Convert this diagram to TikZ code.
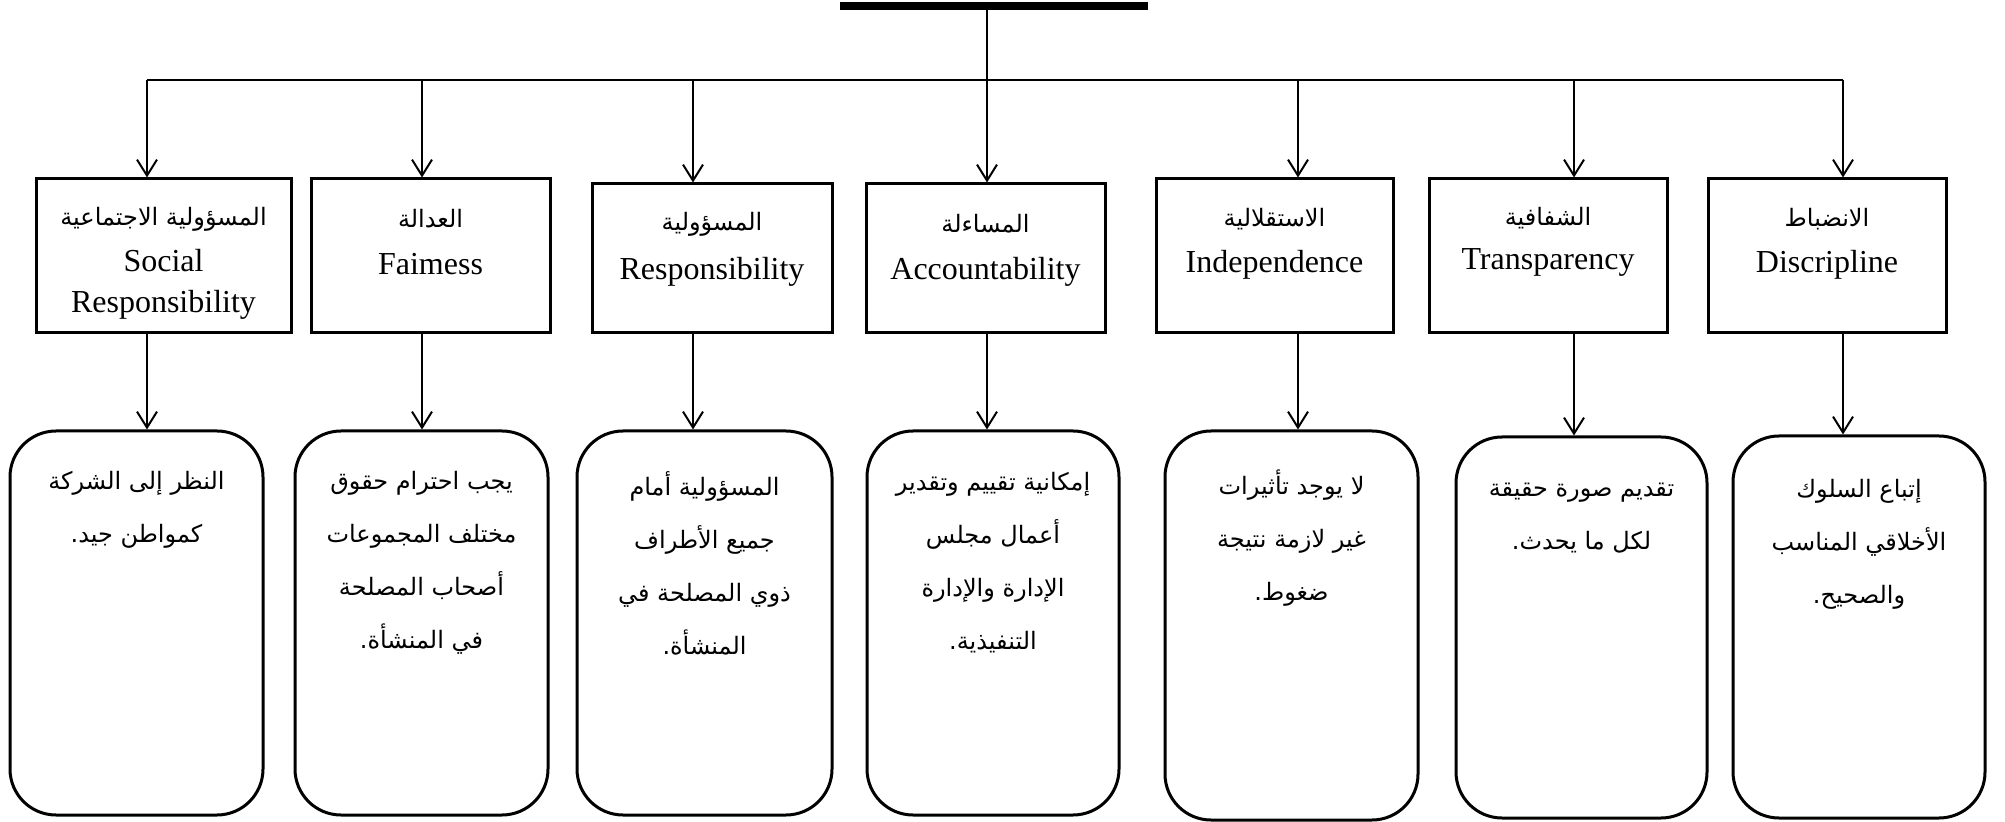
\documentclass[tikz,border=0pt]{standalone}
\usepackage{fontspec}
\setmainfont{Liberation Serif}
\newfontfamily\arabicfont[Script=Arabic]{DejaVu Sans}
\TeXXeTstate=1
\usetikzlibrary{arrows.meta}
\newcommand\arl[1]{\beginR #1\endR}
\begin{document}
\begin{tikzpicture}[x=0.5pt,y=-0.5pt,
  hbox/.style={draw, line width=1.5pt, inner sep=0pt},
  rbox/.style={draw, line width=1.5pt, inner sep=0pt, rounded corners=23pt},
  conn/.style={line width=1pt, -{Straight Barb[length=8pt,width=10pt,line width=1pt]}},
  plain/.style={line width=1pt},
  artxt/.style={font=\arabicfont\fontsize{12}{26.5}\selectfont, align=center, anchor=center, inner sep=0pt},
  arhead/.style={font=\arabicfont\fontsize{12}{14}\selectfont, inner sep=0pt},
  entxt/.style={font=\fontsize{16}{20.5}\selectfont, inner sep=0pt, align=center, anchor=center}
]
\useasboundingbox (0,0) rectangle (2005,822);
% top bar
\node[fill=black, minimum width=154pt, minimum height=4pt, inner sep=0pt] (top) at (994,6) {};
% branch points
\coordinate (a1) at (147,80);
\coordinate (a2) at (422,80);
\coordinate (a3) at (693,80);
\coordinate (a4) at (987,80);
\coordinate (a5) at (1298,80);
\coordinate (a6) at (1574,80);
\coordinate (a7) at (1843,80);
% header boxes
\node[hbox, minimum width=127.5pt, minimum height=77pt] (b1) at (163.5,256) {};
\node[hbox, minimum width=119.5pt, minimum height=77pt] (b2) at (430.5,256) {};
\node[hbox, minimum width=120pt, minimum height=74.5pt] (b3) at (712,258.5) {};
\node[hbox, minimum width=119.5pt, minimum height=74.5pt] (b4) at (985.5,258.5) {};
\node[hbox, minimum width=118.5pt, minimum height=77pt] (b5) at (1274.5,256) {};
\node[hbox, minimum width=119pt, minimum height=77pt] (b6) at (1548,256) {};
\node[hbox, minimum width=119pt, minimum height=77pt] (b7) at (1827,256) {};
% rounded boxes
\node[rbox, minimum width=126.5pt, minimum height=192pt] (r1) at (136.5,623) {};
\node[rbox, minimum width=126.5pt, minimum height=192pt] (r2) at (421.5,623) {};
\node[rbox, minimum width=127.5pt, minimum height=192pt] (r3) at (704.5,623) {};
\node[rbox, minimum width=126pt, minimum height=192pt] (r4) at (993,623) {};
\node[rbox, minimum width=126.5pt, minimum height=194.5pt] (r5) at (1291.5,625.5) {};
\node[rbox, minimum width=125.5pt, minimum height=190.5pt] (r6) at (1581.5,627.5) {};
\node[rbox, minimum width=126pt, minimum height=191pt] (r7) at (1859,627) {};
% connectors
\draw[plain] (top.south -| a4) -- (a4);
\draw[plain] (a1) -- (a7);
\foreach \i in {1,...,7} {
  \draw[conn] (a\i) -- (a\i |- b\i.north);
  \draw[conn] (a\i |- b\i.south) -- (a\i |- r\i.north);
}
% header texts
\node[arhead] (h1) at (163.5,219) {\arl{المسؤولية الاجتماعية}};
\node[entxt] (e1) at (163.5,284) {Social\\Responsibility};
\node[arhead] (h2) at (430.5,219) {\arl{العدالة}};
\node[entxt] (e2) at (430.5,264) {Faimess};
\node[arhead] (h3) at (712,224) {\arl{المسؤولية}};
\node[entxt] (e3) at (712,272) {Responsibility};
\node[arhead] (h4) at (985.5,224) {\arl{المساءلة}};
\node[entxt] (e4) at (985.5,272) {Accountability};
\node[arhead] (h5) at (1274.5,219) {\arl{الاستقلالية}};
\node[entxt] (e5) at (1274.5,265) {Independence};
\node[arhead] (h6) at (1548,218) {\arl{الشفافية}};
\node[entxt] (e6) at (1548,262) {Transparency};
\node[arhead] (h7) at (1827,219) {\arl{الانضباط}};
\node[entxt] (e7) at (1827,265) {Discripline};
% rounded box texts
\node[artxt] (t1) at (136.5,510) {\arl{النظر إلى الشركة}\\\arl{كمواطن جيد.}};
\node[artxt] (t2) at (421.5,563) {\arl{يجب احترام حقوق}\\\arl{مختلف المجموعات}\\\arl{أصحاب المصلحة}\\\arl{في المنشأة.}};
\node[artxt] (t3) at (704.5,563) {\arl{المسؤولية أمام}\\\arl{جميع الأطراف}\\\arl{ذوي المصلحة في}\\\arl{المنشأة.}};
\node[artxt] (t4) at (993,563) {\arl{إمكانية تقييم وتقدير}\\\arl{أعمال مجلس}\\\arl{الإدارة والإدارة}\\\arl{التنفيذية.}};
\node[artxt] (t5) at (1291.5,538) {\arl{لا يوجد تأثيرات}\\\arl{غير لازمة نتيجة}\\\arl{ضغوط.}};
\node[artxt] (t6) at (1581.5,518) {\arl{تقديم صورة حقيقة}\\\arl{لكل ما يحدث.}};
\node[artxt] (t7) at (1859,544) {\arl{إتباع السلوك}\\\arl{الأخلاقي المناسب}\\\arl{والصحيح.}};
\end{tikzpicture}
\end{document}
